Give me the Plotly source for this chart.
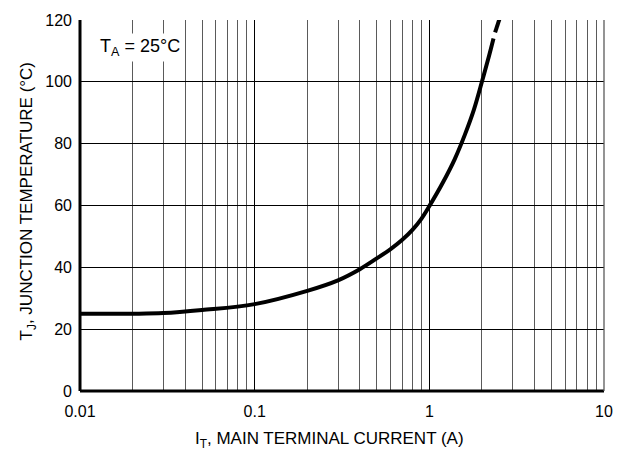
import plotly.graph_objects as go

# Junction temperature vs. main terminal current (T_A = 25 °C)
current_a = [0.01, 0.02, 0.03, 0.05, 0.1, 0.2, 0.3, 0.4, 0.5, 0.6, 0.7,
             0.8, 0.9, 1.0, 1.2, 1.4, 1.6, 1.8, 2.0, 2.2, 2.33]
temp_c = [25.0, 25.0, 25.2, 26.2, 28.1, 32.4, 35.8, 39.4, 42.9, 45.9, 48.9,
          52.1, 55.7, 59.8, 67.6, 75.1, 83.0, 91.0, 100.0, 108.5, 114.0]

# extrapolated tail
tail_current_a = [2.38, 2.52]
tail_temp_c = [116.0, 120.3]

x_ticks = [0.01, 0.1, 1, 10]
x_tick_text = ["0.01", "0.1", "1", "10"]
y_ticks = [0, 20, 40, 60, 80, 100, 120]

FONT = "Liberation Sans, Arial, sans-serif"
L, R, T, B = 80, 12, 17, 62
W, H = 625, 453
PW, PH = W - L - R, H - T - B

fig = go.Figure()
fig.add_trace(go.Scatter(x=current_a, y=temp_c, mode="lines",
                         line=dict(color="black", width=4, shape="spline", smoothing=1.0),
                         hoverinfo="skip", showlegend=False))
fig.add_trace(go.Scatter(x=tail_current_a, y=tail_temp_c, mode="lines",
                         line=dict(color="black", width=4),
                         hoverinfo="skip", showlegend=False, cliponaxis=False))

fig.update_xaxes(type="log", range=[-2, 1], tickvals=x_ticks, ticktext=x_tick_text,
                 showgrid=True, gridcolor="black", gridwidth=1.3,
                 minor=dict(showgrid=True, gridcolor="#5a5a5a", gridwidth=1.3,
                            dtick="D1", ticks=""),
                 zeroline=False, showline=False, ticks="", ticklabelstandoff=9,
                 tickfont=dict(family=FONT, size=16, color="black"))
fig.update_yaxes(range=[0, 120], tickvals=y_ticks,
                 showgrid=True, gridcolor="black", gridwidth=1.3,
                 zeroline=False, showline=False, ticks="", ticklabelstandoff=7,
                 tickfont=dict(family=FONT, size=16, color="black"))

# frame: heavy left/bottom, light right
fig.add_shape(type="line", xref="paper", yref="paper", x0=0, x1=0, y0=0, y1=1,
              line=dict(color="black", width=3))
fig.add_shape(type="line", xref="paper", yref="paper", x0=0, x1=1, y0=0, y1=0,
              line=dict(color="black", width=3))
fig.add_shape(type="line", xref="paper", yref="paper", x0=1, x1=1, y0=0, y1=1,
              line=dict(color="#5a5a5a", width=1.3))

# axis titles
fig.add_annotation(xref="paper", yref="paper", x=(334 - L) / PW, y=-(440 - T - PH) / PH,
                   xanchor="center", yanchor="middle", showarrow=False,
                   text="I<sub>T</sub>, MAIN TERMINAL CURRENT (A)",
                   font=dict(family=FONT, size=17, color="black"))
fig.add_annotation(xref="paper", yref="paper", x=-(L - 27) / PW, y=1 - (200 - T) / PH,
                   xanchor="center", yanchor="middle", showarrow=False, textangle=-90,
                   text="T<sub>J</sub>, JUNCTION TEMPERATURE (°C)",
                   font=dict(family=FONT, size=17, color="black"))

fig.add_annotation(xref="x", yref="y", x=-1.905, y=111, xanchor="left", yanchor="middle",
                   text="T<sub>A</sub> = 25°C", showarrow=False, bgcolor="white",
                   font=dict(family=FONT, size=18, color="black"), borderpad=2)

fig.update_layout(width=W, height=H, margin=dict(l=L, r=R, t=T, b=B),
                  plot_bgcolor="white", paper_bgcolor="white")

fig.write_html("out.html")
